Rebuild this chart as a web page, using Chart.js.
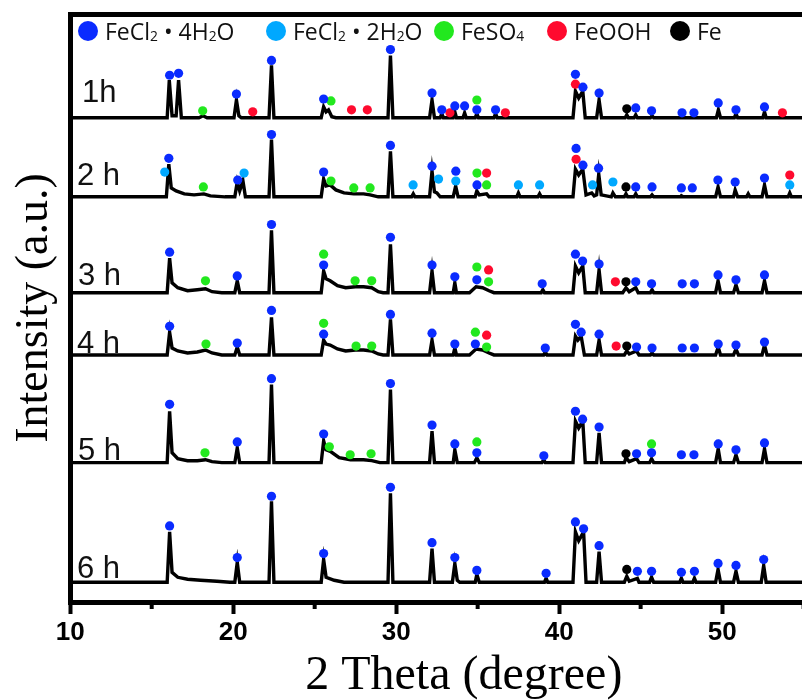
<!DOCTYPE html>
<html>
<head>
<meta charset="utf-8">
<script src="https://cdn.jsdelivr.net/npm/chart.js@4.4.1/dist/chart.umd.min.js"></script>
<style>
  html, body { margin: 0; padding: 0; background: #fff; overflow: hidden; }
  #wrap { position: relative; width: 862px; height: 700px; }
  #xrd { position: absolute; left: 0; top: 0; }
  .leg { position: absolute; top: 21px; height: 20px; display: flex; align-items: center;
         font-family: "Open Sans", sans-serif; font-size: 23px; color: #111; white-space: nowrap; }
  .leg .dot { width: 20px; height: 20px; border-radius: 50%; margin-right: 7px; flex: none; }
  .leg sub { font-size: 0.6em; vertical-align: -0.05em; }
  .lbl { position: absolute; font-family: "Liberation Sans", Arial, sans-serif; font-size: 31px;
         line-height: normal; color: #111; white-space: pre; }
</style>
</head>
<body>
<div id="wrap">
  <canvas id="xrd" width="862" height="700"></canvas>
</div>
<script>
// sample names and vertical offset of each pattern (a.u.)
const sampleLabels = ['1h', '2 h', '3 h', '4 h', '5 h', '6 h'];
const offsets = [490, 410, 313, 250, 141, 20];

// patterns: [2theta, intensity above own baseline]
const trace1h = [
  [10,0],[15.95,0],[16.08,38],[16.25,2],[16.5,2],[16.65,38],[16.82,0],
  [17.9,0],[18.15,2],[18.4,0],
  [20.05,0],[20.2,18],[20.35,2],[20.5,0],
  [22.2,0],[22.35,53],[22.5,0],
  [25.4,0],[25.55,11],[25.7,6],[25.85,8],[26.05,1],[26.3,0],
  [29.5,0],[29.65,63],[29.8,0],
  [32.05,0],[32.2,18],[32.35,0],
  [32.7,0],[32.8,4],[32.9,0],
  [33.5,0],[33.6,6],[33.7,0],
  [34.1,0],[34.2,5],[34.3,0],
  [34.85,0],[34.95,4],[35.05,0],
  [36.0,0],[36.1,4],[36.2,0],
  [40.85,0],[41.0,27],[41.2,20],[41.45,27],[41.6,0],
  [42.3,0],[42.45,18],[42.6,0],
  [44.05,0],[44.15,3],[44.25,0],[44.6,0],[44.7,3],[44.8,0],
  [45.6,0],[45.7,2],[45.8,0],
  [49.65,0],[49.77,8],[49.9,0],
  [50.75,0],[50.85,4],[50.95,0],
  [52.5,0],[52.6,6],[52.7,0],
  [58.3,0]
];
const trace2h = [
  [10,0],[15.9,0],[16.05,33],[16.2,9],[16.5,6],[17.0,3],[17.6,2],[18.2,3],[18.6,1],[19.5,0],
  [20.1,0],[20.25,15],[20.4,6],[20.6,16],[20.75,0],
  [22.2,0],[22.35,58],[22.5,0],
  [25.4,0],[25.55,18],[25.7,11],[25.95,12],[26.3,7],[26.8,4],[27.4,3],[28.0,3],[28.4,2],[28.9,0],
  [29.5,0],[29.65,46],[29.8,0],
  [30.95,0],[31.05,3],[31.15,0],
  [32.05,0],[32.2,26],[32.35,5],[32.5,4],[32.7,0],
  [33.5,0],[33.65,11],[33.8,0],
  [34.85,0],[34.95,6],[35.1,2],[35.55,3],[35.7,0],
  [37.4,0],[37.5,4],[37.6,0],
  [38.7,0],[38.8,3],[38.9,0],
  [40.85,0],[41.0,28],[41.2,22],[41.45,28],[41.65,2],[42.0,4],[42.15,1],[42.3,2],[42.43,23],[42.58,2],
  [43.2,0],[43.3,4],[43.45,0],
  [44.0,0],[44.1,3],[44.2,0],[44.6,0],[44.7,3],[44.8,0],
  [45.6,0],[45.7,2],[45.8,0],
  [47.45,0],[47.5,1],[47.6,0],
  [49.6,0],[49.75,10],[49.9,0],
  [50.7,0],[50.8,7],[50.95,0],
  [51.5,0],[51.6,3],[51.7,0],
  [52.45,0],[52.6,12],[52.75,0],
  [54.05,0],[54.15,4],[54.25,0],
  [58.3,0]
];
const trace3h = [
  [10,0],[15.95,0],[16.1,35],[16.25,10],[16.6,5],[17.2,2],[17.8,3],[18.3,4],[18.7,1],[19.3,0],
  [20.1,0],[20.25,12],[20.4,0],
  [22.2,0],[22.35,63],[22.5,0],
  [25.4,0],[25.55,22],[25.7,14],[25.95,12],[26.4,7],[26.9,5],[27.5,6],[28.0,6],[28.5,5],[28.9,1],[29.2,0],
  [29.5,0],[29.65,49],[29.8,0],
  [32.05,0],[32.2,22],[32.35,0],
  [33.5,0],[33.6,10],[33.7,0],
  [34.5,0],[34.9,6],[35.3,5],[35.7,2],[36.0,0],
  [38.9,0],[39.0,3],[39.1,0],
  [40.85,0],[41.0,27],[41.2,20],[41.45,27],[41.6,0],
  [42.3,0],[42.45,23],[42.6,0],
  [43.9,0],[44.1,5],[44.3,1],[44.7,5],[44.85,0],
  [45.6,0],[45.7,3],[45.8,0],
  [49.6,0],[49.75,12],[49.9,0],
  [50.7,0],[50.85,8],[51.0,0],
  [52.45,0],[52.6,12],[52.75,0],
  [58.3,0]
];
const trace4h = [
  [10,0],[15.95,0],[16.1,23],[16.25,7],[16.6,4],[17.2,2],[17.8,3],[18.3,5],[18.7,2],[19.3,0],
  [20.1,0],[20.25,8],[20.4,0],
  [22.2,0],[22.35,38],[22.5,0],
  [25.4,0],[25.55,15],[25.7,11],[25.95,10],[26.4,6],[26.9,4],[27.5,5],[28.0,5],[28.5,4],[28.9,1],[29.2,0],
  [29.5,0],[29.65,36],[29.8,0],
  [32.05,0],[32.2,15],[32.35,0],
  [33.5,0],[33.6,7],[33.7,0],
  [34.5,0],[34.9,6],[35.3,5],[35.7,2],[36.0,0],
  [39.05,0],[39.15,3],[39.25,0],
  [40.85,0],[41.0,19],[41.15,15],[41.35,19],[41.55,0],
  [42.3,0],[42.45,15],[42.6,0],
  [44.0,0],[44.15,4],[44.3,1],[44.75,4],[44.9,0],
  [45.6,0],[45.7,2],[45.8,0],
  [49.6,0],[49.76,8],[49.9,0],
  [50.7,0],[50.85,6],[51.0,0],
  [52.45,0],[52.6,10],[52.75,0],
  [58.3,0]
];
const trace5h = [
  [10,0],[15.95,0],[16.1,52],[16.25,10],[16.6,4],[17.2,2],[17.8,2],[18.3,3],[18.7,1],[19.3,0],
  [20.1,0],[20.25,15],[20.4,0],
  [22.2,0],[22.35,79],[22.5,0],
  [25.4,0],[25.55,22],[25.7,13],[26.0,11],[26.5,5],[27.2,3],[28.0,3],[28.5,2],[29.0,0],
  [29.5,0],[29.65,74],[29.8,0],
  [32.05,0],[32.2,32],[32.35,0],
  [33.5,0],[33.6,13],[33.75,0],
  [34.8,0],[34.95,5],[35.1,0],
  [38.95,0],[39.05,3],[39.15,0],
  [40.85,0],[41.0,42],[41.2,35],[41.45,42],[41.6,0],
  [42.3,0],[42.45,30],[42.6,0],
  [44.0,0],[44.1,5],[44.3,1],[44.75,4],[44.9,0],
  [45.55,0],[45.67,4],[45.8,0],
  [49.6,0],[49.76,14],[49.9,0],
  [50.7,0],[50.85,8],[51.0,0],
  [52.45,0],[52.6,14],[52.75,0],
  [58.3,0]
];
const trace6h = [
  [10,0],[15.95,0],[16.1,51],[16.25,10],[16.6,5],[17.2,3],[18.0,2],[19.0,1],[19.8,0],
  [20.1,0],[20.25,20],[20.4,0],
  [22.2,0],[22.35,82],[22.5,0],
  [25.4,0],[25.55,23],[25.7,5],[26.2,2],[26.8,0],
  [29.5,0],[29.65,90],[29.8,0],
  [32.05,0],[32.2,34],[32.35,0],
  [33.45,0],[33.6,19],[33.75,2],[33.9,0],
  [34.85,0],[34.95,8],[35.1,0],
  [39.1,0],[39.2,4],[39.3,0],
  [40.85,0],[41.0,51],[41.2,42],[41.5,51],[41.65,0],
  [42.3,0],[42.45,31],[42.6,0],
  [44.0,0],[44.15,6],[44.3,1],[44.8,4],[44.9,0],
  [45.55,0],[45.67,5],[45.8,0],
  [47.4,0],[47.5,4],[47.6,0],
  [48.2,0],[48.3,4],[48.4,0],
  [49.6,0],[49.75,13],[49.9,0],
  [50.7,0],[50.85,11],[51.0,0],
  [52.4,0],[52.55,17],[52.7,0],
  [58.3,0]
];
const traces = [trace1h, trace2h, trace3h, trace4h, trace5h, trace6h];

// phase markers: [pattern index, 2theta, height above that pattern's baseline]
const markFeCl2_4H2O = [
  [0,16.1,43],[0,16.65,45],[0,20.2,24],[0,22.35,58],[0,25.55,19],[0,29.65,69],[0,32.2,25],[0,32.8,8],
  [0,33.6,12],[0,34.2,12],[0,34.95,8],[0,36.1,8],[0,41.0,44],[0,41.46,31],[0,42.45,25],[0,44.7,10],
  [0,45.67,7],[0,47.54,5],[0,48.27,5],[0,49.76,15],[0,50.85,8],[0,52.6,11],
  [1,16.05,39],[1,20.28,17],[1,22.35,63],[1,25.55,25],[1,29.65,52],[1,32.2,31],[1,33.66,26],[1,34.96,12],
  [1,41.04,49],[1,41.46,32],[1,42.42,29],[1,44.7,10],[1,45.7,10],[1,47.5,9],[1,48.17,9],[1,49.74,17],
  [1,50.8,15],[1,52.6,19],
  [2,16.1,41],[2,20.25,17],[2,22.35,69],[2,25.55,28],[2,29.65,56],[2,32.2,28],[2,33.6,16],[2,34.95,13],
  [2,38.96,9],[2,41.0,39],[2,41.44,32],[2,42.45,29],[2,44.7,11],[2,45.67,9],[2,47.55,9],[2,48.3,9],
  [2,49.75,18],[2,50.85,13],[2,52.6,18],
  [3,16.1,29],[3,20.25,12],[3,22.35,45],[3,25.55,21],[3,29.65,41],[3,32.2,22],[3,33.6,11],[3,34.86,11],
  [3,39.15,7],[3,41.0,31],[3,41.35,23],[3,42.45,21],[3,44.75,8],[3,45.7,7],[3,47.55,7],[3,48.3,7],
  [3,49.76,11],[3,50.85,10],[3,52.6,13],
  [4,16.1,59],[4,20.25,21],[4,22.35,85],[4,25.55,29],[4,29.65,80],[4,32.2,38],[4,33.6,19],[4,34.95,10],
  [4,39.06,7],[4,41.0,52],[4,41.44,44],[4,42.45,36],[4,44.75,9],[4,45.67,10],[4,47.5,8],[4,48.27,8],
  [4,49.76,19],[4,50.85,13],[4,52.6,20],
  [5,16.1,57],[5,20.25,25],[5,22.35,87],[5,25.55,29],[5,29.65,96],[5,32.2,40],[5,33.6,25],[5,34.95,12],
  [5,39.2,9],[5,41.0,61],[5,41.5,54],[5,42.45,37],[5,44.8,11],[5,45.67,11],[5,47.5,10],[5,48.3,11],
  [5,49.75,19],[5,50.85,17],[5,52.55,23]
];
const markFeCl2_2H2O = [
  [1,15.8,25],[1,20.67,24],[1,31.04,12],[1,32.6,18],[1,33.66,16],[1,37.5,12],[1,38.8,12],
  [1,42.05,12],[1,43.3,15],[1,54.15,12]
];
const markFeSO4 = [
  [0,18.13,7],[0,26.0,17],[0,34.95,18],
  [1,18.17,10],[1,26.0,16],[1,27.4,9],[1,28.4,9],[1,34.96,24],[1,35.55,12],
  [2,18.3,12],[2,25.55,39],[2,27.48,12],[2,28.5,12],[2,34.95,26],[2,35.67,11],
  [3,18.33,11],[3,25.55,32],[3,27.54,9],[3,28.5,9],[3,34.86,23],[3,35.55,8],
  [4,18.27,10],[4,25.9,16],[4,27.18,8],[4,28.46,9],[4,34.95,21],[4,45.67,19]
];
const markFeOOH = [
  [0,21.2,6],[0,27.26,8],[0,28.23,8],[0,33.3,5],[0,36.7,5],[0,41.0,34],[0,53.7,5],
  [1,35.55,24],[1,41.04,38],[1,54.15,22],
  [2,35.67,23],[2,43.45,11],
  [3,35.55,20],[3,43.5,9]
];
const markFe = [
  [0,44.15,9],[1,44.1,10],[2,44.1,11],[3,44.15,9],[4,44.1,9],[5,44.15,13]
];

const phaseNames = ['FeCl<sub>2</sub> • 4H<sub>2</sub>O', 'FeCl<sub>2</sub> • 2H<sub>2</sub>O',
                    'FeSO<sub>4</sub>', 'FeOOH', 'Fe'];
const phaseColors = ['#0a2bff', '#00a8ff', '#22e81e', '#ff0a2e', '#000000'];
const phaseMarks = [markFeCl2_4H2O, markFeCl2_2H2O, markFeSO4, markFeOOH, markFe];

const xTickValues = [10, 20, 30, 40, 50];
const xMinorTicks = [15, 25, 35, 45, 55];

// layout of the overlaid texts (px)
const legendLeft = [78, 266, 434, 547, 670];
const labelLeft = [82, 77, 78, 77, 78, 77];
const labelBaseline = [102, 185, 285, 353, 460, 578];

const wrap = document.getElementById('wrap');
phaseNames.forEach((name, i) => {
    const d = document.createElement('div');
    d.className = 'leg';
    d.style.left = legendLeft[i] + 'px';
    d.innerHTML = `<span class="dot" style="background:${phaseColors[i]}"></span><span>${name}</span>`;
    wrap.appendChild(d);
});
sampleLabels.forEach((txt, i) => {
    const d = document.createElement('div');
    d.className = 'lbl';
    d.textContent = txt;
    d.style.left = labelLeft[i] + 'px';
    d.style.top = (labelBaseline[i] - 0.905 * 31) + 'px';
    wrap.appendChild(d);
});

const datasets = [];
phaseMarks.forEach((marks, i) => {
    datasets.push({
        label: phaseNames[i],
        data: marks.map(([t, x, h]) => ({ x: x, y: offsets[t] + h })),
        pointRadius: 4.6,
        pointBackgroundColor: phaseColors[i],
        pointBorderWidth: 0,
        showLine: false,
        order: 0
    });
});
traces.forEach((tr, i) => {
    datasets.push({
        label: sampleLabels[i],
        data: tr.map(([x, h]) => ({ x: x, y: offsets[i] + h })),
        showLine: true,
        borderColor: '#000',
        borderWidth: 3.4,
        pointRadius: 0,
        tension: 0,
        order: 1
    });
});

const minorTickPlugin = {
    id: 'minorTicks',
    afterDraw(chart) {
        const s = chart.scales.x;
        const ctx = chart.ctx;
        ctx.save();
        ctx.strokeStyle = '#000';
        ctx.lineWidth = 4;
        xMinorTicks.forEach(v => {
            const px = s.getPixelForValue(v);
            ctx.beginPath();
            ctx.moveTo(px, s.top);
            ctx.lineTo(px, s.top + 7);
            ctx.stroke();
        });
        ctx.restore();
    }
};

new Chart(document.getElementById('xrd'), {
    type: 'scatter',
    data: { datasets: datasets },
    plugins: [minorTickPlugin],
    options: {
        responsive: false,
        animation: false,
        layout: { padding: { left: 5, top: 6, right: 0, bottom: 0 } },
        plugins: { legend: { display: false }, tooltip: { enabled: false } },
        scales: {
            x: {
                type: 'linear', position: 'bottom', min: 10, max: 58.3,
                afterBuildTicks: (scale) => { scale.ticks = xTickValues.map(v => ({ value: v })); },
                ticks: {
                    color: '#000', padding: 6, maxRotation: 0,
                    font: { family: "'Liberation Sans Narrow', 'Liberation Sans', Arial, sans-serif", size: 26, weight: 'bold', lineHeight: 1 }
                },
                grid: { drawOnChartArea: false, drawTicks: true, tickLength: 12, tickWidth: 4, tickColor: '#000' },
                border: { width: 5, color: '#000' },
                title: {
                    display: true, text: '2 Theta (degree)', color: '#000',
                    font: { family: "'Liberation Serif', 'Times New Roman', serif", size: 48, lineHeight: 1 },
                    padding: { top: 0, bottom: 0 }
                }
            },
            xTop: {
                type: 'linear', position: 'top', min: 10, max: 58.3,
                ticks: { display: false },
                grid: { display: false },
                border: { width: 5, color: '#000' }
            },
            y: {
                min: 0, max: 595,
                ticks: { display: false },
                grid: { display: false },
                border: { width: 5, color: '#000' },
                title: {
                    display: true, text: 'Intensity (a.u.)', color: '#000',
                    font: { family: "'Liberation Serif', 'Times New Roman', serif", size: 46, lineHeight: 1.2 },
                    padding: { top: 2, bottom: 0 }
                }
            }
        }
    }
});
</script>
</body>
</html>
